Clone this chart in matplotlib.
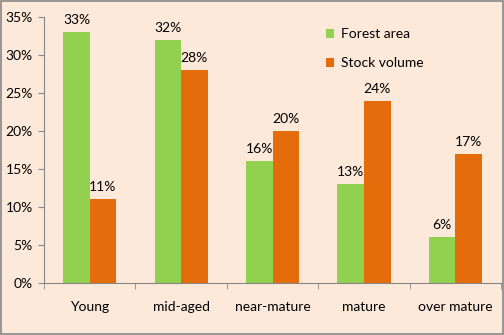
import numpy as np
import matplotlib
matplotlib.use('Agg')
import matplotlib.pyplot as plt
from matplotlib.ticker import PercentFormatter

# stand age classes and their shares
categories = ['Young', 'mid-aged', 'near-mature', 'mature', 'over mature']
forest_area = [33, 32, 16, 13, 6]
stock_volume = [11, 28, 20, 24, 17]

bg = '#FDE9D9'
green = '#92D050'
orange = '#E46C0A'
axis_grey = '#868686'

plt.rcParams['font.family'] = ['Lato', 'DejaVu Sans']
plt.rcParams['font.size'] = 10

fig = plt.figure(figsize=(5.04, 3.35), dpi=100, facecolor=bg)
fig.patches.append(plt.Rectangle((0.001, 0.002), 0.997, 0.995, transform=fig.transFigure,
                                 fill=False, edgecolor=axis_grey, linewidth=1.2))
ax = fig.add_axes([0.0873, 0.155, 0.907, 0.794])
ax.set_facecolor(bg)

x = np.arange(len(categories))
w = 0.29
b1 = ax.bar(x - w / 2, forest_area, w, color=green, label='Forest area')
b2 = ax.bar(x + w / 2, stock_volume, w, color=orange, label='Stock volume')

for bars, vals in ((b1, forest_area), (b2, stock_volume)):
    for rect, v in zip(bars, vals):
        ax.text(rect.get_x() + rect.get_width() / 2, v + 0.8, f'{v}%',
                ha='center', va='bottom', fontsize=10)

ax.set_xlim(-0.5, len(categories) - 0.5)
ax.set_ylim(0, 35)
ax.set_yticks(np.arange(0, 36, 5))
ax.yaxis.set_major_formatter(PercentFormatter(decimals=0))

# category labels centred, ticks on the boundaries
ax.set_xticks(x)
ax.set_xticklabels(categories)
ax.tick_params(axis='x', which='major', length=0, pad=13)
ax.set_xticks(np.arange(-0.5, len(categories)), minor=True)
ax.tick_params(axis='x', which='minor', length=4, color=axis_grey, direction='out')
ax.tick_params(axis='y', length=4, color=axis_grey, direction='out', pad=4)

for side in ('top', 'right'):
    ax.spines[side].set_visible(False)
for side in ('left', 'bottom'):
    ax.spines[side].set_color(axis_grey)

ax.legend(loc='upper left', bbox_to_anchor=(0.589, 1.006), frameon=False,
          handlelength=0.6, handleheight=0.6, handletextpad=0.5, labelspacing=1.25,
          fontsize=10)

fig.savefig('out.png', dpi=100, facecolor=bg)
